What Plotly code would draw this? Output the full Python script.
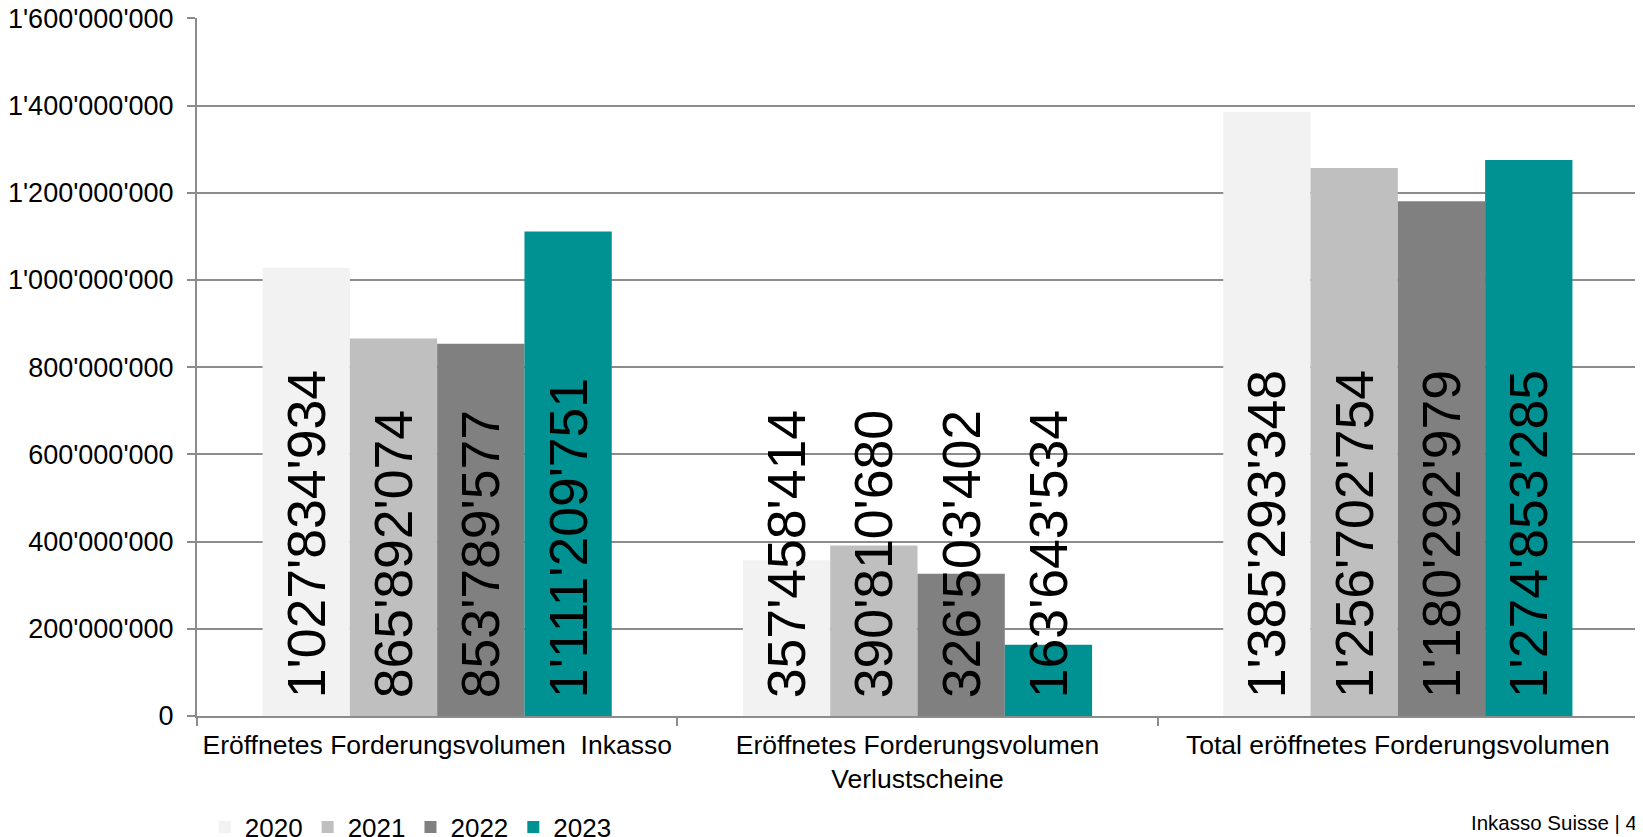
import plotly.graph_objects as go

categories = ["Eröffnetes Forderungsvolumen \u00a0Inkasso",
              "Eröffnetes Forderungsvolumen<br>Verlustscheine",
              "Total eröffnetes Forderungsvolumen"]
years = ["2020", "2021", "2022", "2023"]
values = {
    "2020": [1027834934, 357458414, 1385293348],
    "2021": [865892074, 390810680, 1256702754],
    "2022": [853789577, 326503402, 1180292979],
    "2023": [1111209751, 163643534, 1274853285],
}
colors = {"2020": "#f2f2f2", "2021": "#bfbfbf", "2022": "#808080", "2023": "#009292"}
tick_vals = [0, 200e6, 400e6, 600e6, 800e6, 1000e6, 1200e6, 1400e6, 1600e6]


def fmt(v):
    return f"{int(v):,}".replace(",", "'")


FONT = "Arial, 'Liberation Sans', sans-serif"

fig = go.Figure()
for y in years:
    fig.add_trace(go.Bar(
        name=y, x=categories, y=values[y],
        marker=dict(color=colors[y], line=dict(width=0)),
        text=["\u00a0" + fmt(v) for v in values[y]],
        textposition="inside", insidetextanchor="start", textangle=-90,
        constraintext="none",
        insidetextfont=dict(family=FONT, size=53.5, color="black"),
        hoverinfo="skip",
    ))

fig.update_layout(
    width=1635, height=829,
    margin=dict(l=189, r=5, t=10, b=121, autoexpand=False),
    paper_bgcolor="white", plot_bgcolor="white",
    barmode="group", bargap=0.273, bargroupgap=0,
    font=dict(family=FONT, size=26, color="black"),
    showlegend=True,
    legend=dict(orientation="h", x=0.0054, xanchor="left", y=-0.1254, yanchor="top",
                font=dict(size=26), itemwidth=30, bgcolor="rgba(0,0,0,0)"),
    annotations=[dict(text="Inkasso Suisse | 4", xref="paper", yref="paper",
                      x=0.883, y=-0.152, xanchor="left", yanchor="middle",
                      showarrow=False, font=dict(size=20.5, color="black"))],
)
fig.update_xaxes(
    showline=True, linecolor="#8c8c8c", linewidth=2,
    ticks="outside", tickson="boundaries", ticklen=8, tickcolor="#8c8c8c", tickwidth=2,
    tickfont=dict(size=26.5), showgrid=False, automargin=False, ticklabelstandoff=4,
)
fig.update_yaxes(
    range=[0, 1.6008e9], tickvals=tick_vals, ticktext=[fmt(v) for v in tick_vals],
    showline=True, linecolor="#8c8c8c", linewidth=2,
    ticks="outside", ticklen=8, tickcolor="#8c8c8c", tickwidth=2,
    showgrid=True, gridcolor="#8c8c8c", gridwidth=2, zeroline=False,
    tickfont=dict(size=27), ticklabelstandoff=8, automargin=False,
    ticklabeloverflow="allow",
)

fig.write_html("out.html")
